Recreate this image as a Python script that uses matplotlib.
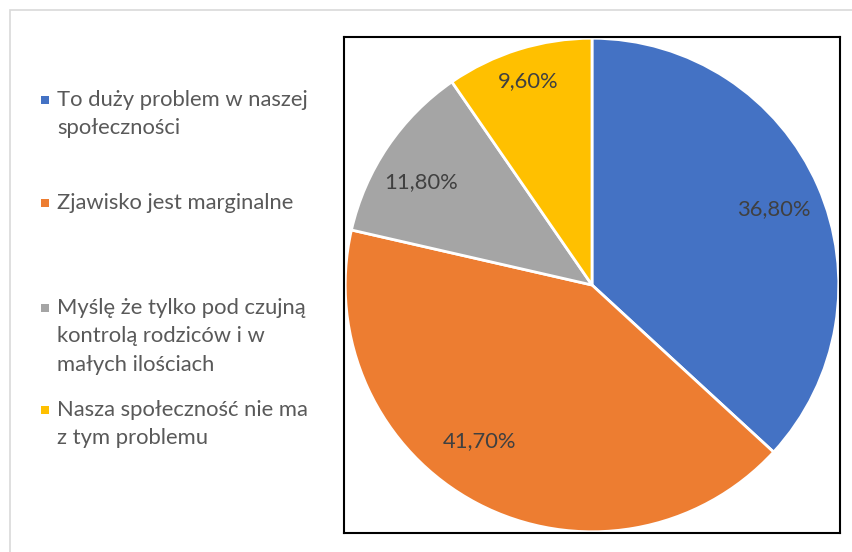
import matplotlib
matplotlib.use("Agg")
import matplotlib.pyplot as plt
import numpy as np
from matplotlib.patches import Rectangle

categories = [
    "To duży problem w naszej\nspołeczności",
    "Zjawisko jest marginalne",
    "Myślę że tylko pod czujną\nkontrolą rodziców i w\nmałych ilościach",
    "Nasza społeczność nie ma\nz tym problemu",
]
values = [36.8, 41.7, 11.8, 9.6]
colors = ["#4472C4", "#ED7D31", "#A5A5A5", "#FFC000"]
label_dist = [0.80, 0.78, 0.81, 0.864]
label_ang_offset = [-1.0, -8.0, 3.0, 0.0]

plt.rcParams['font.family'] = ['Lato', 'DejaVu Sans']
FS = 15.8

fig = plt.figure(figsize=(8.53, 5.52), dpi=100)
W, H = 853, 552

# outer chart border
fig.patches.append(Rectangle((10 / W, -0.1), 1.2, (H - 10) / H + 0.1,
                             transform=fig.transFigure, fill=False,
                             edgecolor="#D9D9D9", linewidth=1.2))

ax = fig.add_axes([344 / W, (H - 533) / H, (840 - 344) / W, (533 - 37) / H])
wedges, _ = ax.pie(values, colors=colors, startangle=90, counterclock=False,
                   radius=1.0, wedgeprops=dict(edgecolor="white", linewidth=2))
ax.set_frame_on(True)
ax.set_xlim(-1.005, 1.005)
ax.set_ylim(-1.005, 1.005)
ax.set_aspect("equal")
ax.set_xticks([])
ax.set_yticks([])
for s in ax.spines.values():
    s.set_visible(True)
    s.set_color("black")
    s.set_linewidth(1.5)

for w, v, d, off in zip(wedges, values, label_dist, label_ang_offset):
    ang = np.deg2rad((w.theta1 + w.theta2) / 2 + off)
    ax.text(d * np.cos(ang), d * np.sin(ang), f"{v:.2f}%".replace(".", ","),
            ha="center", va="center", fontsize=FS, color="#404040")

# legend (manual, Excel-like)
entry_top = [100, 203, 308, 410]
line_h = 28.5
for cat, col, y0 in zip(categories, colors, entry_top):
    fig.patches.append(Rectangle((41 / W, 1 - (y0 + 4) / H), 8 / W, 8 / H,
                                 transform=fig.transFigure, facecolor=col,
                                 edgecolor="none"))
    for i, line in enumerate(cat.split("\n")):
        fig.text(57 / W, 1 - (y0 + i * line_h) / H, line, ha="left",
                 va="center", fontsize=FS, color="#595959")

fig.savefig("out.png", dpi=100)
